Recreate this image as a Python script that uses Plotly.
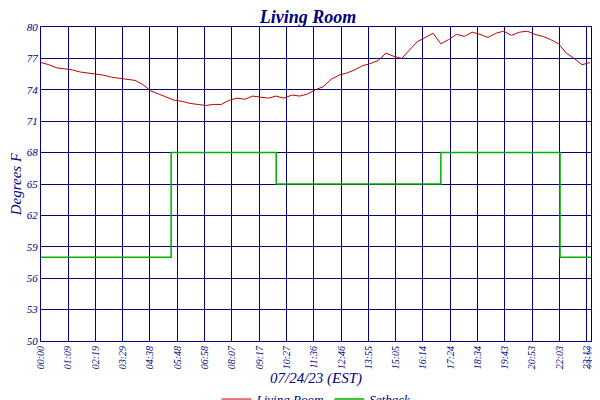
import plotly.graph_objects as go

temp_minutes = list(range(0, 1401, 20))
temp_values = [76.6,76.4,76.1,76.0,75.9,75.7,75.6,75.5,75.4,75.2,75.1,75.0,74.9,74.5,73.9,73.6,73.3,73.0,72.9,72.7,
               72.6,72.5,72.6,72.6,73.0,73.2,73.1,73.4,73.3,73.2,73.4,73.2,73.5,73.4,73.6,74.0,74.3,75.0,75.4,75.6,
               75.9,76.3,76.5,76.8,77.5,77.2,77.0,77.8,78.6,79.0,79.4,78.4,78.8,79.3,79.1,79.5,79.3,79.0,79.4,79.6,
               79.2,79.5,79.6,79.3,79.1,78.8,78.4,77.5,77.0,76.4,76.6]
setback_minutes = [0, 332, 332, 600, 600, 1020, 1020, 1324, 1324, 1403]
setback_values = [58, 58, 68, 68, 65, 65, 68, 68, 58, 58]
tick_minutes = [0,69,139,209,278,348,418,487,557,627,696,766,835,905,974,1044,1114,1183,1253,1323,1392,1402]
tick_labels = ["00:00","01:09","02:19","03:29","04:38","05:48","06:58","08:07","09:17","10:27","11:36",
               "12:46","13:55","15:05","16:14","17:24","18:34","19:43","20:53","22:03","23:12","23:22"]
y_ticks = [50,53,56,59,62,65,68,71,74,77,80]

navy = "#000080"
font = dict(family="Liberation Serif", color=navy)
fig = go.Figure()
fig.add_trace(go.Scatter(x=temp_minutes, y=temp_values, mode="lines", name="<i>Living Room</i>",
                         line=dict(color="#c00000", width=1)))
fig.add_trace(go.Scatter(x=setback_minutes, y=setback_values, mode="lines", name="<i>Setback</i>",
                         line=dict(color="#00b000", width=1.5)))
fig.add_trace(go.Scatter(x=[0], y=[50], yaxis="y2", showlegend=False, hoverinfo="skip",
                         mode="markers", marker=dict(opacity=0)))
fig.update_layout(
    width=600, height=400, margin=dict(l=33, r=17, t=19, b=67, autoexpand=False),
    paper_bgcolor="white", plot_bgcolor="white",
    title=dict(text="<b><i>Living Room</i></b>", x=0.5, y=0.995, yanchor="top",
               font=dict(family="Liberation Serif", size=18, color=navy)),
    font=font,
    xaxis=dict(range=[0, 1403], tickvals=tick_minutes, ticktext=[f"<i>{t}</i>" for t in tick_labels],
               tickangle=-90, tickfont=dict(size=10, color=navy), showgrid=True, gridcolor=navy,
               gridwidth=1, showline=True, linecolor=navy, mirror=True, zeroline=False,
               layer="above traces", ticks="", automargin=False),
    yaxis=dict(range=[50, 80], tickvals=y_ticks, ticktext=[f"<i>{v}</i>" for v in y_ticks],
               tickfont=dict(size=11, color=navy), showgrid=True, gridcolor=navy, gridwidth=1,
               showline=True, linecolor=navy, mirror=True, zeroline=False, layer="above traces", ticks="",
               automargin=False),
    yaxis2=dict(range=[50, 80], overlaying="y", side="right", tickvals=y_ticks,
                ticktext=[f"<i>{v}</i>" for v in y_ticks], tickfont=dict(size=11, color=navy),
                showgrid=False, zeroline=False, automargin=False, ticks=""),
    annotations=[
        dict(text="<i>07/24/23 (EST)</i>", xref="paper", yref="paper", x=0.5, y=-0.118,
             yanchor="middle", showarrow=False, font=dict(size=15, color=navy)),
        dict(text="<i>Degrees F</i>", xref="paper", yref="paper", x=-0.045, y=0.5, textangle=-90,
             xanchor="center", showarrow=False, font=dict(size=15, color=navy)),
    ],
    legend=dict(orientation="h", x=0.5, xanchor="center", y=-0.185, yanchor="middle",
                font=dict(size=13, color=navy)),
)
fig.write_html("out.html")
